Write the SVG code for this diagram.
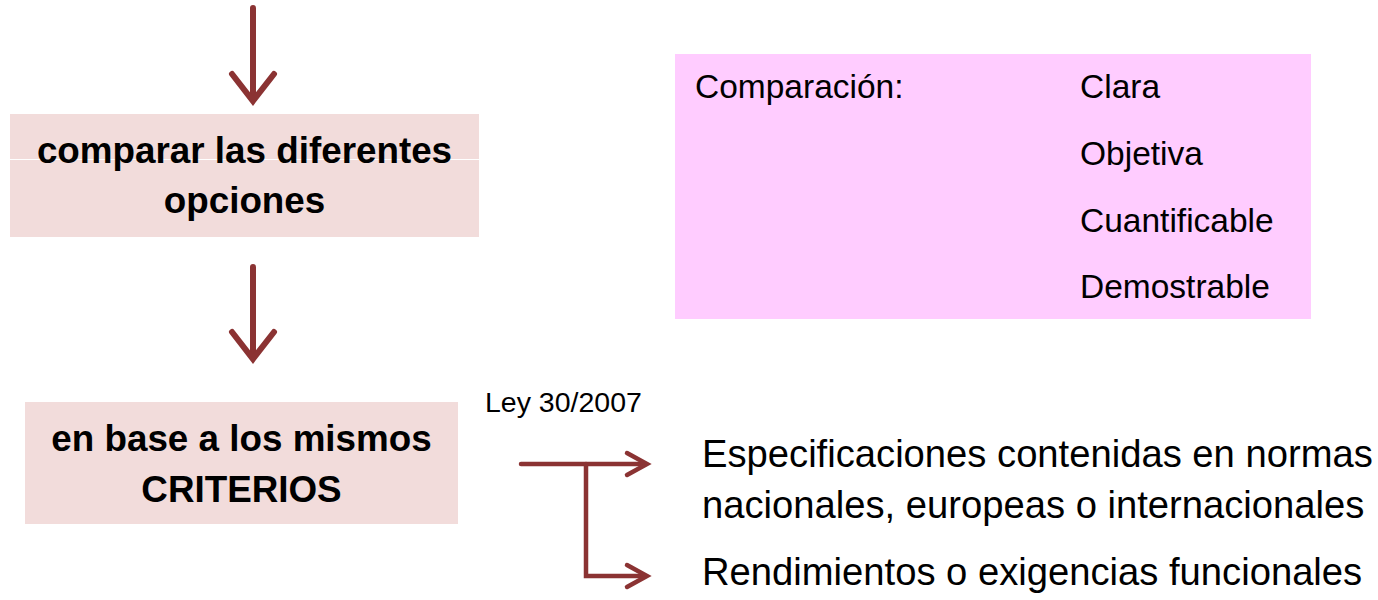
<svg xmlns="http://www.w3.org/2000/svg" width="1378" height="600" viewBox="0 0 1378 600">
<style>
.box{fill:#F2DCDB}
.pink{fill:#FFCCFF}
.bt{font-family:"Liberation Sans",Arial,sans-serif;font-weight:bold;font-size:36.8px;fill:#000;text-anchor:middle}
.t{font-family:"Liberation Sans",Arial,sans-serif;fill:#000}
.big{stroke:#8B3333;stroke-width:6;fill:none;stroke-linecap:round;stroke-linejoin:miter}
.thin{stroke:#8B3333;stroke-width:4.5;fill:none;stroke-linecap:round;stroke-linejoin:miter}
</style>
<rect width="1378" height="600" fill="#fff"/>
<g id="connectors">
  <line class="big" x1="253" y1="8" x2="253" y2="99" stroke-linecap="butt"/>
  <polyline class="big" points="232,74 253,101 274,74"/>
  <line class="big" x1="253" y1="267" x2="253" y2="357" stroke-linecap="butt"/>
  <polyline class="big" points="232,332 253,359 274,332"/>
  <polyline class="thin" points="521,464 646,464" stroke-linecap="butt"/>
  <polyline class="thin" points="627,453 647,464 627,475"/>
  <polyline class="thin" points="586,464 586,576 646,576" stroke-linecap="butt"/>
  <polyline class="thin" points="627,565 647,576 627,587"/>
</g>
<g id="node-comparar">
  <rect class="box" x="10" y="114" width="469" height="123"/>
  <line x1="10" y1="159.5" x2="479" y2="159.5" stroke="#fff" stroke-width="1"/>
  <text class="bt" x="244.5" y="163">comparar las diferentes</text>
  <text class="bt" x="244.5" y="213">opciones</text>
</g>
<g id="node-criterios">
  <rect class="box" x="25" y="402" width="433" height="122"/>
  <text class="bt" x="241.5" y="451">en base a los mismos</text>
  <text class="bt" x="241.5" y="502">CRITERIOS</text>
</g>
<g id="node-comparacion">
  <rect class="pink" x="675" y="54" width="636" height="265"/>
  <text class="t" x="695" y="98" font-size="33.5">Comparación:</text>
  <text class="t" x="1080" y="98" font-size="33.5">Clara</text>
  <text class="t" x="1080" y="165" font-size="33.5">Objetiva</text>
  <text class="t" x="1080" y="232" font-size="33.5">Cuantificable</text>
  <text class="t" x="1080" y="298" font-size="33.5">Demostrable</text>
</g>
<g id="label-ley">
  <text class="t" x="485" y="412" font-size="28.5">Ley 30/2007</text>
</g>
<g id="node-especificaciones">
  <text class="t" x="702" y="467" font-size="38.2">Especificaciones contenidas en normas</text>
  <text class="t" x="702" y="518" font-size="38.2">nacionales, europeas o internacionales</text>
</g>
<g id="node-rendimientos">
  <text class="t" x="702" y="585" font-size="38.2">Rendimientos o exigencias funcionales</text>
</g>
</svg>
